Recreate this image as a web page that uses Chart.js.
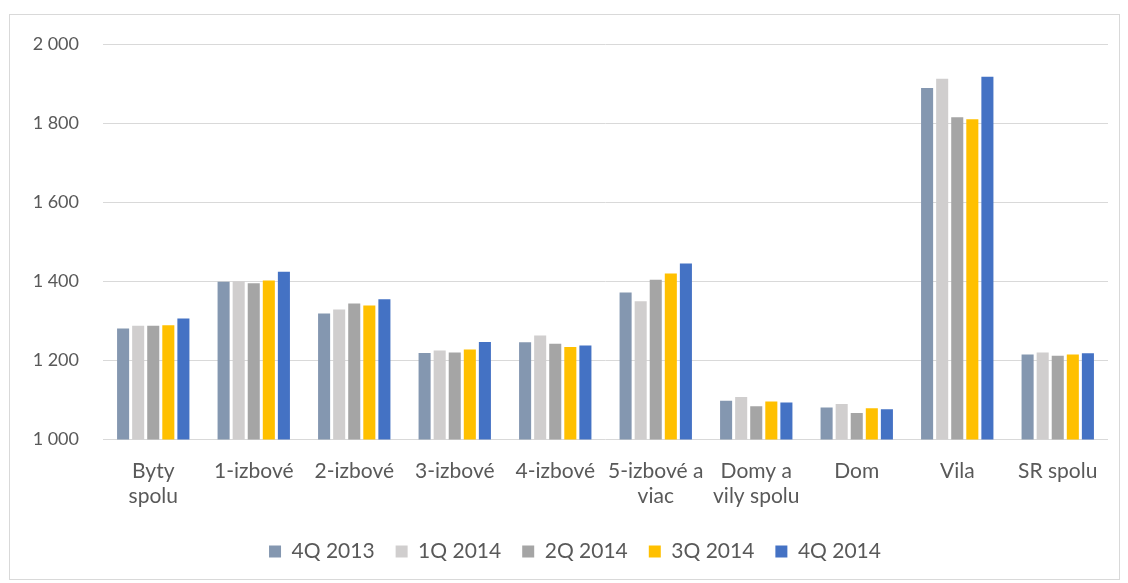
<!DOCTYPE html>
<html>
<head>
<meta charset="utf-8">
<script src="https://cdn.jsdelivr.net/npm/chart.js@4"></script>
<style>
  html, body { margin: 0; padding: 0; background: #fff; }
  #box {
    position: absolute; left: 9px; top: 14px;
    width: 1111px; height: 566px;
    border: 1px solid #d9d9d9; box-sizing: border-box;
  }
  #chart { display: block; }
</style>
</head>
<body>
<div id="box"><canvas id="chart" width="1109" height="564"></canvas></div>
<script>
// categories (multi-line labels as in the original)
const categories = [
  ['Byty', 'spolu'], '1-izbové', '2-izbové', '3-izbové', '4-izbové',
  ['5-izbové a', 'viac'], ['Domy a', 'vily spolu'], 'Dom', 'Vila', 'SR spolu'
];
const seriesNames = ['4Q 2013', '1Q 2014', '2Q 2014', '3Q 2014', '4Q 2014'];
const q4_2013 = [1281, 1399, 1319, 1219, 1246, 1372, 1098, 1081, 1889, 1215];
const q1_2014 = [1288, 1400, 1329, 1225, 1263, 1350, 1108, 1090, 1912, 1220];
const q2_2014 = [1288, 1395, 1344, 1220, 1242, 1404, 1084, 1067, 1815, 1212];
const q3_2014 = [1289, 1402, 1339, 1228, 1234, 1420, 1096, 1079, 1810, 1215];
const q4_2014 = [1306, 1424, 1355, 1247, 1238, 1445, 1094, 1077, 1917, 1218];
const yTicks = [1000, 1200, 1400, 1600, 1800, 2000];

const seriesData = [q4_2013, q1_2014, q2_2014, q3_2014, q4_2014];
const seriesColors = ['#8497b0', '#d0cece', '#a5a5a5', '#ffc000', '#4472c4'];

// legend in the original sits a bit right of centre
const shiftLegend = {
  id: 'shiftLegend',
  afterLayout(chart) {
    chart.legend.left += 16;
    chart.legend.right += 16;
  }
};

const ctx = document.getElementById('chart').getContext('2d');

new Chart(ctx, {
  type: 'bar',
  data: {
    labels: categories,
    datasets: seriesNames.map((name, i) => ({
      label: name,
      data: seriesData[i],
      backgroundColor: seriesColors[i],
      borderWidth: 0,
      categoryPercentage: 0.75,
      barPercentage: 0.8
    }))
  },
  options: {
    responsive: false,
    animation: false,
    layout: {
      padding: { top: 29, right: 11, left: 0, bottom: 7 }
    },
    plugins: {
      legend: {
        position: 'bottom',
        labels: {
          boxWidth: 12,
          boxHeight: 12,
          padding: 21,
          color: '#595959',
          font: { family: 'Lato', size: 21 }
        }
      },
      tooltip: { enabled: false }
    },
    scales: {
      x: {
        grid: { display: false },
        border: { display: false },
        ticks: {
          color: '#595959',
          font: { family: 'Lato', size: 21 },
          maxRotation: 0,
          autoSkip: false,
          padding: 11
        }
      },
      y: {
        min: 1000,
        max: 2000,
        afterBuildTicks: axis => { axis.ticks = yTicks.map(v => ({ value: v })); },
        afterFit: axis => {
          axis.width = 93;
          axis.paddingTop = 0;
          axis.paddingBottom = 0;
        },
        grid: { color: '#d9d9d9', lineWidth: 1, drawTicks: false },
        border: { display: false },
        ticks: {
          color: '#595959',
          font: { family: 'Lato', size: 18 },
          padding: 24,
          callback: v => String(v).replace(/\B(?=(\d{3})+(?!\d))/g, ' ')
        }
      }
    }
  },
  plugins: [shiftLegend]
});
</script>
</body>
</html>
